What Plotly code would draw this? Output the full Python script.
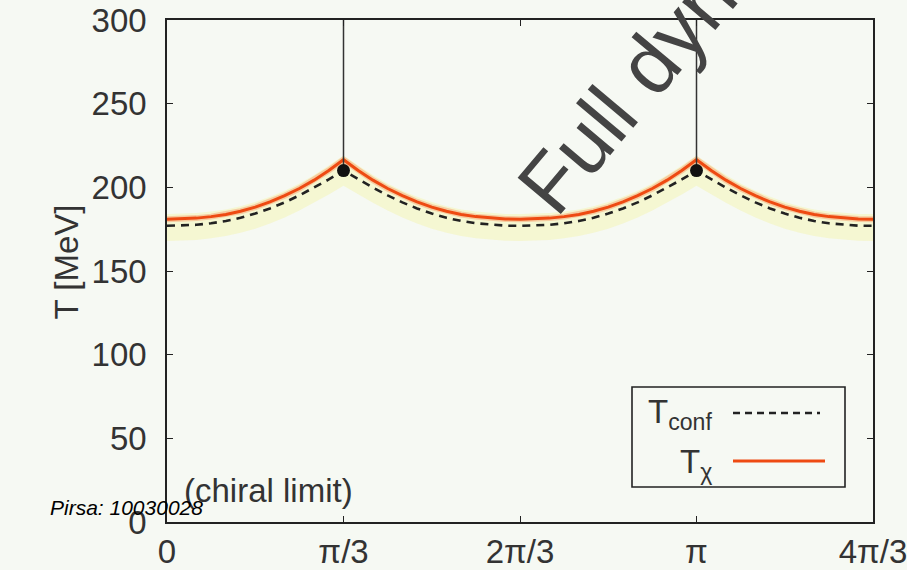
import numpy as np
import plotly.graph_objects as go

PI = np.pi

# imaginary chemical potential theta/T grid, 0 .. 4pi/3 in steps of pi/36
theta = [k * PI / 36 for k in range(49)]

# chiral transition temperature T_chi [MeV]
t_chi = [181.0, 181.1, 181.6, 182.5, 183.8, 185.7, 188.2, 191.3, 195.0, 199.3, 204.3, 210.1, 216.5,
         210.1, 204.3, 199.3, 195.0, 191.3, 188.2, 185.7, 183.8, 182.5, 181.6, 181.1, 181.0,
         181.1, 181.6, 182.5, 183.8, 185.7, 188.2, 191.3, 195.0, 199.3, 204.3, 210.1, 216.5,
         210.1, 204.3, 199.3, 195.0, 191.3, 188.2, 185.7, 183.8, 182.5, 181.6, 181.1, 181.0]

# deconfinement temperature T_conf [MeV]
t_conf = [177.0, 177.1, 177.6, 178.5, 179.9, 181.8, 184.3, 187.4, 191.0, 195.2, 199.8, 204.7, 210.0,
          204.7, 199.8, 195.2, 191.0, 187.4, 184.3, 181.8, 179.9, 178.5, 177.6, 177.1, 177.0,
          177.1, 177.6, 178.5, 179.9, 181.8, 184.3, 187.4, 191.0, 195.2, 199.8, 204.7, 210.0,
          204.7, 199.8, 195.2, 191.0, 187.4, 184.3, 181.8, 179.9, 178.5, 177.6, 177.1, 177.0]

# uncertainty band edges [MeV]
band_lo = [168.0, 168.1, 168.6, 169.5, 170.9, 172.8, 175.3, 178.4, 182.0, 186.2, 190.8, 195.7, 201.0,
           195.7, 190.8, 186.2, 182.0, 178.4, 175.3, 172.8, 170.9, 169.5, 168.6, 168.1, 168.0,
           168.1, 168.6, 169.5, 170.9, 172.8, 175.3, 178.4, 182.0, 186.2, 190.8, 195.7, 201.0,
           195.7, 190.8, 186.2, 182.0, 178.4, 175.3, 172.8, 170.9, 169.5, 168.6, 168.1, 168.0]
band_hi = [184.0, 184.1, 184.6, 185.5, 186.8, 188.7, 191.2, 194.3, 198.0, 202.3, 207.3, 213.1, 219.0,
           213.1, 207.3, 202.3, 198.0, 194.3, 191.2, 188.7, 186.8, 185.5, 184.6, 184.1, 184.0,
           184.1, 184.6, 185.5, 186.8, 188.7, 191.2, 194.3, 198.0, 202.3, 207.3, 213.1, 219.0,
           213.1, 207.3, 202.3, 198.0, 194.3, 191.2, 188.7, 186.8, 185.5, 184.6, 184.1, 184.0]

# Roberge-Weiss end points and the RW lines above them
rw_theta = [PI / 3, PI]
rw_temp = [210.0, 210.0]
rw_top = 300.0

x_ticks = [0, PI / 3, 2 * PI / 3, PI, 4 * PI / 3]
x_ticktext = ["0", "π/3", "2π/3", "π", "4π/3"]
y_ticks = [0, 50, 100, 150, 200, 250, 300]

BG = "#f6f9f3"
RED = "#ee4a12"
FONT = "Liberation Sans"
TXT = "#333333"

W, H = 907, 570
L, R, T, B = 167, 34, 20, 48
PW, PH = W - L - R, H - T - B


def px(x):
    return (x - L) / PW


def py(y):
    return (H - B - y) / PH


fig = go.Figure()

fig.add_trace(go.Scatter(x=theta, y=band_lo, mode="lines", line=dict(width=0),
                         hoverinfo="skip", showlegend=False))
fig.add_trace(go.Scatter(x=theta, y=band_hi, mode="lines", line=dict(width=0),
                         fill="tonexty", fillcolor="rgba(244,244,170,0.45)",
                         hoverinfo="skip", showlegend=False))

fig.add_trace(go.Scatter(x=theta, y=t_conf, mode="lines",
                         line=dict(color="#222222", width=2.6, dash="8px,6px"),
                         showlegend=False))
fig.add_trace(go.Scatter(x=theta, y=t_chi, mode="lines",
                         line=dict(color="rgba(248,150,100,0.45)", width=6),
                         hoverinfo="skip", showlegend=False))
fig.add_trace(go.Scatter(x=theta, y=t_chi, mode="lines",
                         line=dict(color=RED, width=3), showlegend=False))

for xv, yv in zip(rw_theta, rw_temp):
    fig.add_trace(go.Scatter(x=[xv, xv], y=[yv, rw_top], mode="lines",
                             line=dict(color="#333333", width=1.5), showlegend=False))
fig.add_trace(go.Scatter(x=rw_theta, y=rw_temp, mode="markers",
                         marker=dict(color="#111111", size=13), showlegend=False))

axis_common = dict(showline=True, linecolor="#222222", linewidth=1.6, mirror="allticks",
                   ticks="inside", ticklen=6, tickwidth=1.3, tickcolor="#222222",
                   showgrid=False, zeroline=False, automargin=False,
                   ticklabeloverflow="allow",
                   tickfont=dict(family=FONT, size=33, color=TXT))

fig.update_xaxes(range=[0, 4 * PI / 3], tickvals=x_ticks, ticktext=x_ticktext,
                 ticklabelstandoff=0, **axis_common)
fig.update_yaxes(range=[0, 300], tickvals=y_ticks, ticklabelstandoff=12, **axis_common)

shapes = [dict(type="rect", xref="paper", yref="paper",
               x0=px(632), x1=px(845), y0=py(487), y1=py(387),
               line=dict(color="#222222", width=1.6), fillcolor=BG, layer="above"),
          dict(type="line", xref="paper", yref="paper",
               x0=px(733), x1=px(820), y0=py(413), y1=py(413),
               line=dict(color="#222222", width=2.4, dash="7px,5px")),
          dict(type="line", xref="paper", yref="paper",
               x0=px(733), x1=px(825), y0=py(461), y1=py(461),
               line=dict(color=RED, width=3))]

annotations = [
    dict(text="T [MeV]", xref="paper", yref="paper", x=px(45), y=py(262),
         textangle=-90, showarrow=False, font=dict(family=FONT, size=33, color=TXT)),
    dict(text="T<sub>conf</sub>", xref="paper", yref="paper", x=px(714), y=py(414),
         xanchor="right", yanchor="middle", showarrow=False,
         font=dict(family=FONT, size=33, color=TXT)),
    dict(text="T<sub>χ</sub>", xref="paper", yref="paper", x=px(714), y=py(464),
         xanchor="right", yanchor="middle", showarrow=False,
         font=dict(family=FONT, size=33, color=TXT)),
    dict(text="(chiral limit)", xref="paper", yref="paper", x=px(268), y=py(490),
         xanchor="center", yanchor="middle", showarrow=False,
         font=dict(family=FONT, size=33, color=TXT)),
    dict(text="Full dynamics", xref="paper", yref="paper", x=px(695), y=py(9),
         textangle=-50, showarrow=False, xanchor="center", yanchor="middle",
         font=dict(family=FONT, size=82, color="#444444")),
    dict(text="<i>Pirsa: 10030028</i>", xref="paper", yref="paper", x=px(48), y=py(507),
         xanchor="left", yanchor="middle", showarrow=False,
         font=dict(family="Liberation Sans", size=21, color="#000000")),
]

fig.update_layout(width=W, height=H, margin=dict(l=L, r=R, t=T, b=B),
                  paper_bgcolor=BG, plot_bgcolor=BG, showlegend=False,
                  shapes=shapes, annotations=annotations)

fig.write_html("out.html")
